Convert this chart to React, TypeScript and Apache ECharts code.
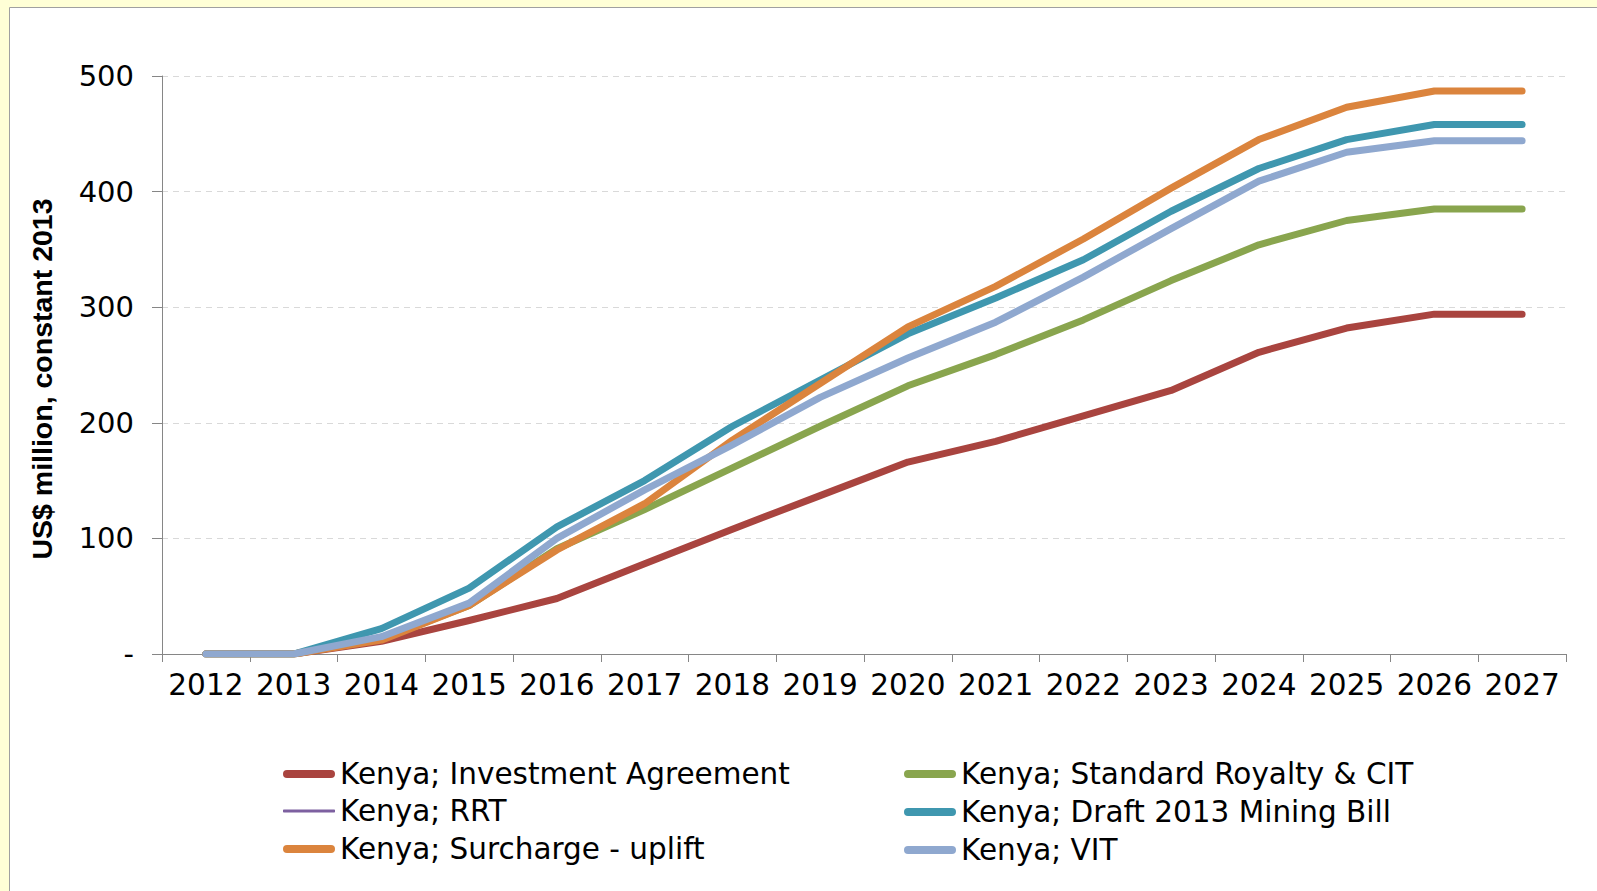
import React, { useEffect, useRef } from "react";
import * as echarts from "echarts";

const years = ["2012","2013","2014","2015","2016","2017","2018","2019","2020","2021","2022","2023","2024","2025","2026","2027"];
const investmentAgreement = [0, 0, 11, 29, 48, 78, 108, 137, 166, 184, 206, 228, 261, 282, 294, 294];
const standardRoyalty = [0, 0, 13, 42, 91, 125, 161, 197, 232, 259, 289, 323, 354, 375, 385, 385];
const rrt: (number | null)[] = [null, null, null, null, null, null, null, null, null, null, null, null, null, null, null, null];
const draftMiningBill = [0, 0, 22, 57, 110, 150, 197, 237, 277, 308, 341, 383, 420, 445, 458, 458];
const surchargeUplift = [0, 0, 12, 42, 90, 130, 185, 234, 283, 318, 359, 403, 445, 473, 487, 487];
const vit = [0, 0, 15, 44, 100, 142, 181, 222, 256, 287, 326, 368, 409, 434, 444, 444];

const seriesNames = [
  "Kenya; Investment Agreement",
  "Kenya; Standard Royalty & CIT",
  "Kenya; RRT",
  "Kenya; Draft 2013 Mining Bill",
  "Kenya; Surcharge - uplift",
  "Kenya; VIT",
];
const seriesColors = ["#A9443F", "#89A54E", "#7D60A0", "#3F97AF", "#DB843D", "#8FA8CF"];
const seriesWidths = [7, 7, 2, 7, 7, 7];
const seriesData = [investmentAgreement, standardRoyalty, rrt, draftMiningBill, surchargeUplift, vit];
const yTicks = { min: 0, max: 500, interval: 100 };

const THICK_ICON = "path://M4,0L48,0A4,4,0,0,1,48,8L4,8A4,4,0,0,1,4,0Z";

export default function App() {
  const ref = useRef<HTMLDivElement>(null);
  useEffect(() => {
    if (!ref.current) return;
    const chart = echarts.init(ref.current, undefined, { renderer: "svg" });
    const legendText = { fontFamily: "DejaVu Sans", fontSize: 29.5, lineHeight: 29, color: "#000" };
    const baseLegend = {
      orient: "vertical",
      padding: 0,
      itemWidth: 52,
      itemHeight: 8,
      selectedMode: false,
      symbolKeepAspect: false,
      textStyle: legendText,
      itemStyle: { borderWidth: 0 },
    };
    chart.setOption({
      animation: false,
      backgroundColor: "#FFFFD6",
      graphic: [
        {
          type: "rect",
          z: -10,
          shape: { x: 9.5, y: 7.5, width: 1600, height: 900 },
          style: { fill: "#ffffff", stroke: "#A0A0A0", lineWidth: 1 },
        },
        {
          type: "text",
          x: 42,
          y: 379,
          rotation: Math.PI / 2,
          style: {
            text: "US$ million, constant 2013",
            font: 'bold 28.5px "Liberation Sans"',
            fill: "#000",
            align: "center",
            verticalAlign: "middle",
            textAlign: "center",
            textVerticalAlign: "middle",
          },
        },
      ],
      grid: { left: 162, right: 31, top: 76, bottom: 237, containLabel: false },
      legend: [
        {
          ...baseLegend,
          left: 283,
          top: 759,
          itemGap: 45,
          data: [
            { name: seriesNames[0], icon: THICK_ICON },
            { name: seriesNames[4], icon: THICK_ICON },
          ],
        },
        {
          ...baseLegend,
          left: 283,
          top: 796,
          itemHeight: 3,
          data: [{ name: seriesNames[2], icon: "roundRect" }],
        },
        {
          ...baseLegend,
          left: 904,
          top: 759,
          itemGap: 8,
          data: [
            { name: seriesNames[1], icon: THICK_ICON },
            { name: seriesNames[3], icon: THICK_ICON },
            { name: seriesNames[5], icon: THICK_ICON },
          ],
        },
      ],
      xAxis: {
        type: "category",
        data: years,
        boundaryGap: true,
        axisLine: { show: true, lineStyle: { color: "#868686", width: 1 } },
        axisTick: { show: true, length: 8, alignWithLabel: false, lineStyle: { color: "#868686" } },
        axisLabel: { interval: 0, margin: 16, color: "#000", fontFamily: "DejaVu Sans", fontSize: 29.5 },
        splitLine: { show: false },
      },
      yAxis: {
        type: "value",
        min: yTicks.min,
        max: yTicks.max,
        interval: yTicks.interval,
        axisLine: { show: true, lineStyle: { color: "#868686", width: 1 } },
        axisTick: { show: true, length: 10, lineStyle: { color: "#868686" } },
        axisLabel: {
          margin: 28,
          color: "#000",
          fontFamily: "DejaVu Sans",
          fontSize: 29,
          formatter: (v: number) => (v === 0 ? "-" : String(v)),
        },
        splitLine: { show: true, lineStyle: { color: "#D9D9D9", type: [6, 5], width: 1 } },
      },
      series: seriesNames.map((name, i) => ({
        name,
        type: "line",
        data: seriesData[i],
        color: seriesColors[i],
        symbol: "none",
        showSymbol: false,
        smooth: false,
        itemStyle: { color: seriesColors[i] },
        lineStyle: { width: seriesWidths[i], color: seriesColors[i], cap: "round", join: "round" },
      })),
    });
    return () => chart.dispose();
  }, []);
  return (
    <div style={{ position: "fixed", left: 0, top: 0, width: 1597, height: 891 }}>
      <div ref={ref} style={{ width: 1597, height: 891 }} />
    </div>
  );
}
